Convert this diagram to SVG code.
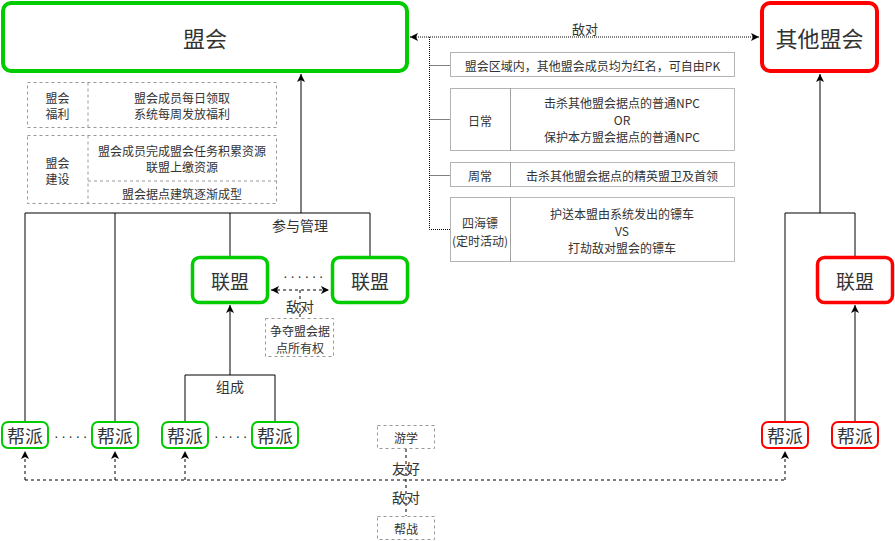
<svg xmlns="http://www.w3.org/2000/svg" width="895" height="541" viewBox="0 0 895 541">
<style>
.t{font-family:"Noto Sans CJK SC","Microsoft YaHei",sans-serif;fill:#333;text-anchor:middle;dominant-baseline:central}
.s12{font-size:12px}.s13{font-size:13px}.s14{font-size:14px}.s18{font-size:18px}.s19{font-size:19px}.s22{font-size:22px}
.g{fill:#fff;stroke:#00CC00}
.r{fill:#fff;stroke:#FF0000}
.c{fill:none;stroke:#000;stroke-width:1}
.d{stroke-dasharray:3,3}
.o{stroke-dasharray:1,1}
.note{fill:#fff;stroke:#999;stroke-dasharray:3,3}
.dot{fill:#fff;stroke:#666;stroke-dasharray:1,1}
.sol{fill:#fff;stroke:#bbb}
.dots{font-family:"Liberation Sans",Arial,sans-serif;font-size:14px;fill:#333;letter-spacing:2.5px;dominant-baseline:central}
</style>
<defs>
<marker id="a" markerWidth="10" markerHeight="10" refX="8" refY="4" orient="auto-start-reverse" markerUnits="userSpaceOnUse"><path d="M0,0 L8,4 L0,8 L2,4 z" fill="#000"/></marker>
</defs>
<rect width="895" height="541" fill="#fff"/>

<g id="connectors">
<path class="c" d="M25,421 V213 H370 V256"/>
<path class="c" d="M115,213 V421"/>
<path class="c" d="M230,213 V256"/>
<path class="c" d="M301,213 V74" marker-end="url(#a)"/>
<path class="c" d="M185,421 V375 H275 V421"/>
<path class="c" d="M230,375 V305" marker-end="url(#a)"/>
<path class="c" d="M785,421 V213 H855 V256"/>
<path class="c" d="M820,213 V74" marker-end="url(#a)"/>
<path class="c" d="M855,421 V305" marker-end="url(#a)"/>
<path class="c d" d="M25,480 H785"/>
<path class="c d" d="M25,480 V451" marker-end="url(#a)"/>
<path class="c d" d="M115,480 V451" marker-end="url(#a)"/>
<path class="c d" d="M185,480 V451" marker-end="url(#a)"/>
<path class="c d" d="M785,480 V451" marker-end="url(#a)"/>
<path class="c d" d="M406,449 V516"/>
<path class="c d" d="M271,290 H329" marker-start="url(#a)" marker-end="url(#a)"/>
<path class="c d" d="M300,290 V318"/>
<path class="c o" d="M410,37 H759" marker-start="url(#a)" marker-end="url(#a)"/>
<path class="c o" d="M429.5,37 V229.5 H450 M429.5,65.5 H450 M429.5,119.5 H450 M429.5,175.5 H450"/>
</g>

<g id="label-manage"><text class="t s14" x="300" y="225">参与管理</text></g>
<g id="label-compose"><text class="t s14" x="230" y="386">组成</text></g>
<g id="label-enemy-top"><text class="t s13" x="585" y="28">敌对</text></g>
<g id="label-enemy-mid"><text class="t s14" x="300" y="306">敌对</text></g>
<g id="label-friend"><text class="t s14" x="406" y="468">友好</text></g>
<g id="label-enemy-bottom"><text class="t s14" x="406" y="497">敌对</text></g>

<g id="alliance">
<rect class="g" x="3" y="3" width="404" height="68" rx="8" stroke-width="4"/>
<text class="t s22" x="205" y="37">盟会</text>
</g>
<g id="other-alliance">
<rect class="r" x="762" y="3" width="115" height="68" rx="8" stroke-width="4"/>
<text class="t s22" x="819.5" y="37">其他盟会</text>
</g>

<g id="welfare">
<rect class="note" x="27.5" y="82.5" width="249" height="45"/>
<line x1="88" y1="82.5" x2="88" y2="127.5" stroke="#999" stroke-dasharray="3,3"/>
<text class="t s12" x="57.5" y="97">盟会</text>
<text class="t s12" x="57.5" y="113">福利</text>
<text class="t s12" x="182" y="97">盟会成员每日领取</text>
<text class="t s12" x="182" y="113">系统每周发放福利</text>
</g>
<g id="construction">
<rect class="note" x="27.5" y="135.5" width="249" height="68"/>
<line x1="88" y1="135.5" x2="88" y2="203.5" stroke="#999" stroke-dasharray="3,3"/>
<line x1="88" y1="181" x2="276.5" y2="181" stroke="#999" stroke-dasharray="3,3"/>
<text class="t s12" x="57.5" y="162">盟会</text>
<text class="t s12" x="57.5" y="178">建设</text>
<text class="t s12" x="182" y="150">盟会成员完成盟会任务积累资源</text>
<text class="t s12" x="182" y="166">联盟上缴资源</text>
<text class="t s12" x="182" y="193">盟会据点建筑逐渐成型</text>
</g>

<g id="pk-zone">
<rect class="dot" x="450.5" y="52.5" width="284" height="24"/>
<text class="t s12" x="592.5" y="65">盟会区域内，其他盟会成员均为红名，可自由PK</text>
</g>
<g id="daily">
<rect class="sol" x="510.5" y="88.5" width="224" height="62"/>
<rect class="dot" x="450.5" y="88.5" width="60" height="62"/>
<text class="t s12" x="480" y="120">日常</text>
<text class="t s12" x="622" y="102">击杀其他盟会据点的普通NPC</text>
<text class="t s12" x="622" y="119">OR</text>
<text class="t s12" x="622" y="136">保护本方盟会据点的普通NPC</text>
</g>
<g id="weekly">
<rect class="sol" x="510.5" y="162.5" width="224" height="24"/>
<rect class="dot" x="450.5" y="162.5" width="60" height="24"/>
<text class="t s12" x="480" y="175">周常</text>
<text class="t s12" x="622" y="175">击杀其他盟会据点的精英盟卫及首领</text>
</g>
<g id="escort">
<rect class="sol" x="510.5" y="197.5" width="224" height="64"/>
<rect class="dot" x="450.5" y="197.5" width="60" height="64"/>
<text class="t s12" x="480" y="222">四海镖</text>
<text class="t s12" x="480" y="240">(定时活动)</text>
<text class="t s12" x="622" y="213">护送本盟由系统发出的镖车</text>
<text class="t s12" x="622" y="230">VS</text>
<text class="t s12" x="622" y="247">打劫敌对盟会的镖车</text>
</g>

<g id="league-1">
<rect class="g" x="192.5" y="257.5" width="75" height="45" rx="7" stroke-width="3.5"/>
<text class="t s19" x="230" y="280">联盟</text>
</g>
<g id="league-2">
<rect class="g" x="332.5" y="257.5" width="75" height="45" rx="7" stroke-width="3.5"/>
<text class="t s19" x="370" y="280">联盟</text>
</g>
<g id="league-dots"><text class="dots" x="283" y="276">······</text></g>
<g id="league-red">
<rect class="r" x="817.5" y="257.5" width="75" height="45" rx="7" stroke-width="3.5"/>
<text class="t s19" x="855" y="280">联盟</text>
</g>
<g id="contest">
<rect class="note" x="265.5" y="318.5" width="68" height="38"/>
<text class="t s12" x="300" y="330">争夺盟会据</text>
<text class="t s12" x="300" y="347">点所有权</text>
</g>

<g id="gang-1"><rect class="g" x="2" y="422" width="46" height="26" rx="6" stroke-width="2"/><text class="t s18" x="25" y="435">帮派</text></g>
<g id="gang-dots-1"><text class="dots" x="54" y="436">······</text></g>
<g id="gang-2"><rect class="g" x="92" y="422" width="46" height="26" rx="6" stroke-width="2"/><text class="t s18" x="115" y="435">帮派</text></g>
<g id="gang-3"><rect class="g" x="162" y="422" width="46" height="26" rx="6" stroke-width="2"/><text class="t s18" x="185" y="435">帮派</text></g>
<g id="gang-dots-2"><text class="dots" x="214" y="436">······</text></g>
<g id="gang-4"><rect class="g" x="252" y="422" width="46" height="26" rx="6" stroke-width="2"/><text class="t s18" x="275" y="435">帮派</text></g>
<g id="gang-red-1"><rect class="r" x="762" y="422" width="46" height="26" rx="6" stroke-width="2"/><text class="t s18" x="785" y="435">帮派</text></g>
<g id="gang-red-2"><rect class="r" x="832" y="422" width="46" height="26" rx="6" stroke-width="2"/><text class="t s18" x="855" y="435">帮派</text></g>

<g id="study">
<rect class="note" x="377.5" y="425.5" width="57" height="23"/>
<text class="t s12" x="406" y="437">游学</text>
</g>
<g id="gang-war">
<rect class="note" x="377.5" y="516.5" width="57" height="23"/>
<text class="t s12" x="406" y="528">帮战</text>
</g>
</svg>
